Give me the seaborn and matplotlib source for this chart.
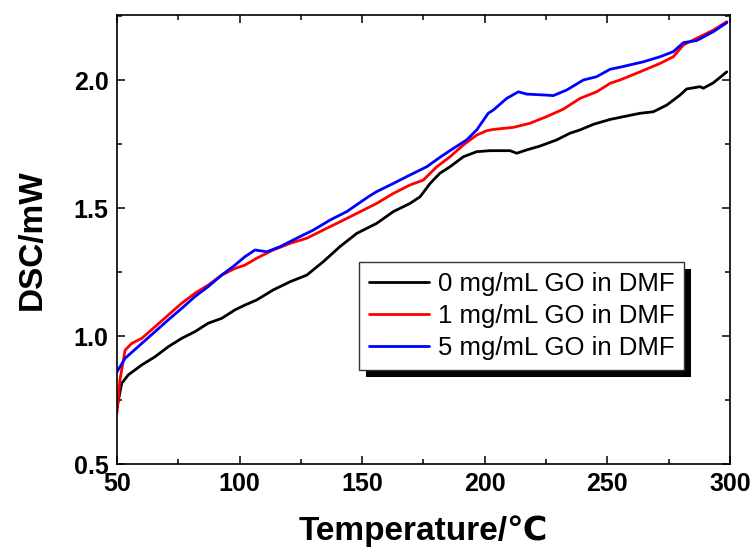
import pandas as pd
import seaborn as sns
import matplotlib.pyplot as plt
from matplotlib.patches import Rectangle

# DSC traces (temperature in C, heat flow in mW)
temp_0 = [50, 51.9, 54.6, 60.1, 65.5, 70.9, 76.4, 81.8, 87.2, 92.7, 98.1, 102.2, 107.0, 113.7,
          120.6, 127.4, 134.1, 140.9, 147.8, 155.9, 162.7, 169.5, 173.6, 177.7, 181.7, 185.8,
          191.2, 196.7, 202.1, 210.3, 213.0, 217.1, 222.5, 229.3, 234.7, 238.8, 244.3, 251.1,
          255.1, 263.3, 268.7, 274.2, 279.6, 282.3, 287.8, 289.1, 293.2, 298.7]
dsc_0 = [0.72, 0.815, 0.848, 0.887, 0.919, 0.958, 0.991, 1.017, 1.050, 1.069, 1.102, 1.121, 1.141,
         1.180, 1.212, 1.238, 1.290, 1.349, 1.401, 1.440, 1.486, 1.518, 1.544, 1.596, 1.636,
         1.661, 1.700, 1.720, 1.724, 1.724, 1.714, 1.727, 1.742, 1.766, 1.792, 1.805, 1.827,
         1.846, 1.854, 1.870, 1.876, 1.902, 1.941, 1.965, 1.974, 1.968, 1.989, 2.032]

temp_1 = [50, 51.2, 53.3, 56.0, 60.1, 65.5, 70.9, 76.4, 81.8, 87.2, 92.7, 98.1, 102.2, 107.0,
          113.7, 120.6, 127.4, 134.1, 140.9, 147.8, 155.9, 162.7, 169.5, 174.9, 180.4, 185.8,
          191.2, 196.7, 200.8, 203.5, 211.6, 218.4, 225.2, 232.0, 238.8, 245.6, 251.1, 255.1,
          263.3, 271.5, 276.9, 281.0, 286.4, 293.2, 298.7]
dsc_1 = [0.70, 0.828, 0.945, 0.971, 0.991, 1.036, 1.082, 1.128, 1.167, 1.199, 1.238, 1.264,
         1.277, 1.304, 1.336, 1.362, 1.382, 1.414, 1.446, 1.479, 1.518, 1.557, 1.590, 1.609,
         1.661, 1.700, 1.746, 1.785, 1.802, 1.807, 1.815, 1.831, 1.857, 1.886, 1.928, 1.954,
         1.987, 2.000, 2.032, 2.065, 2.091, 2.137, 2.163, 2.195, 2.228]

temp_5 = [50, 53.3, 60.1, 65.5, 70.9, 76.4, 81.8, 87.2, 92.7, 98.1, 102.2, 106.3, 111.1, 116.5,
          123.3, 130.1, 136.9, 143.7, 152.5, 155.9, 162.7, 169.5, 176.3, 181.7, 187.2, 192.6,
          196.7, 201.4, 203.5, 208.9, 213.7, 217.1, 225.2, 227.9, 233.4, 240.2, 245.6, 251.1,
          255.1, 264.6, 271.5, 276.9, 281.0, 286.4, 293.2, 298.7]
dsc_5 = [0.86, 0.913, 0.971, 1.017, 1.063, 1.108, 1.154, 1.193, 1.238, 1.277, 1.310, 1.336,
         1.329, 1.349, 1.382, 1.414, 1.453, 1.486, 1.544, 1.564, 1.596, 1.629, 1.661, 1.698,
         1.733, 1.766, 1.805, 1.870, 1.883, 1.928, 1.954, 1.945, 1.941, 1.939, 1.961, 2.000,
         2.013, 2.042, 2.050, 2.071, 2.091, 2.111, 2.146, 2.154, 2.189, 2.224]

labels = ['0 mg/mL GO in DMF', '1 mg/mL GO in DMF', '5 mg/mL GO in DMF']
colors = ['black', 'red', 'blue']

sns.set_theme(style="ticks")
plt.rcParams['font.family'] = ['Liberation Sans', 'DejaVu Sans']
plt.rcParams.update({'text.color': 'black', 'axes.labelcolor': 'black',
                     'xtick.color': 'black', 'ytick.color': 'black'})

fig = plt.figure(figsize=(7.54, 5.52), dpi=100)
ax = fig.add_axes([117 / 754, 1 - 464 / 552, 613 / 754, 449 / 552])

for t, d, lab, c in zip([temp_0, temp_1, temp_5], [dsc_0, dsc_1, dsc_5], labels, colors):
    df = pd.DataFrame({'T': t, 'DSC': d})
    sns.lineplot(data=df, x='T', y='DSC', color=c, lw=2, label=lab, ax=ax,
                 estimator=None, sort=False)

ax.set_xlim(50, 300)
ax.set_ylim(0.5, 2.254)
ax.set_xticks([50, 100, 150, 200, 250, 300])
ax.set_yticks([0.5, 1.0, 1.5, 2.0])
ax.set_xticks([75, 125, 175, 225, 275], minor=True)
ax.set_yticks([0.75, 1.25, 1.75, 2.25], minor=True)
ax.tick_params(which='both', direction='in', top=True, right=True, width=1.1, color='black')
ax.tick_params(which='major', length=6, labelsize=18, pad=6)
ax.tick_params(which='minor', length=3.5)
for lbl in ax.get_xticklabels() + ax.get_yticklabels():
    lbl.set_fontweight('bold')
for sp in ax.spines.values():
    sp.set_linewidth(1.2)
    sp.set_color('black')

ax.set_xlabel('Temperature/℃', fontsize=24, fontweight='bold', labelpad=14)
ax.set_ylabel('DSC/mW', fontsize=24, fontweight='bold', labelpad=19)

leg = ax.legend(loc='upper left', bbox_to_anchor=(0.395, 0.45), borderaxespad=0,
                fontsize=18.5, fancybox=False, edgecolor='#333333', framealpha=1,
                handlelength=2.3, handletextpad=0.35, labelspacing=0.3, borderpad=0.4)
leg.get_frame().set_linewidth(1.0)

# hard black drop shadow behind the legend box
fig.canvas.draw()
bb = leg.get_window_extent().transformed(ax.transAxes.inverted())
dx, dy = 7 / 613, 7 / 449
ax.add_patch(Rectangle((bb.x0 + dx, bb.y0 - dy), bb.width, bb.height, transform=ax.transAxes,
                       facecolor='black', edgecolor='none', zorder=4.9, clip_on=False))

fig.savefig('out.png', dpi=100)
